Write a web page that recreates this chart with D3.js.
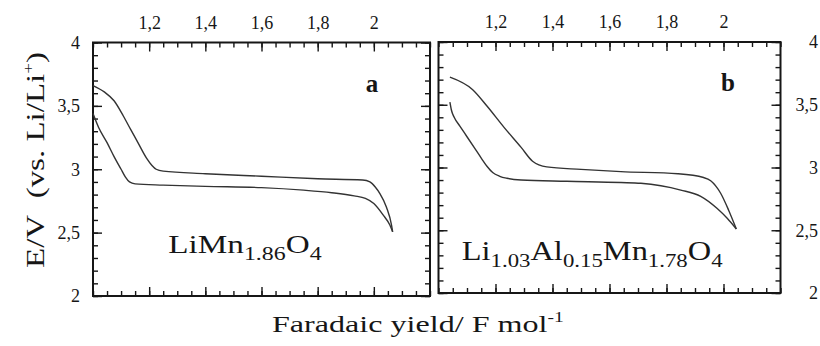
<!DOCTYPE html>
<html><head><meta charset="utf-8">
<script src="https://cdn.jsdelivr.net/npm/d3@7"></script>
<style>html,body{margin:0;padding:0;background:#fff;}svg{display:block;}
svg text{font-family:"Liberation Serif","Times New Roman",Tinos,"Nimbus Roman",Times,serif;}</style>
</head><body>
<svg id="c" width="820" height="346"></svg>
<script>
// ---------- data ----------
const xMajorTicks = [1.2, 1.4, 1.6, 1.8, 2.0];
const xTickLabels = ["1,2", "1,4", "1,6", "1,8", "2"];
const yMajorTicks = [2, 2.5, 3, 3.5, 4];
const yTickLabels = ["2", "2,5", "3", "3,5", "4"];
const panelLetters = ["a", "b"];

// panel a : LiMn1.86O4
const aUpperX = [1.0, 1.04, 1.075, 1.108, 1.135, 1.16, 1.19, 1.21, 1.225, 1.25, 1.4, 1.6, 1.8, 1.96, 1.986, 2.005, 2.021, 2.045, 2.063, 2.067];
const aUpperV = [3.66, 3.61, 3.54, 3.42, 3.31, 3.21, 3.09, 3.03, 3.0, 2.985, 2.965, 2.945, 2.925, 2.915, 2.90, 2.86, 2.81, 2.70, 2.56, 2.506];
const aLowerX = [1.0, 1.02, 1.05, 1.075, 1.10, 1.115, 1.13, 1.15, 1.25, 1.4, 1.6, 1.75, 1.85, 1.93, 1.97, 2.0, 2.033, 2.057, 2.067];
const aLowerV = [3.44, 3.33, 3.21, 3.10, 3.0, 2.94, 2.90, 2.885, 2.875, 2.865, 2.855, 2.835, 2.815, 2.79, 2.77, 2.73, 2.64, 2.56, 2.506];

// panel b : Li1.03Al0.15Mn1.78O4
const bUpperX = [1.04, 1.12, 1.17, 1.23, 1.29, 1.33, 1.38, 1.5, 1.64, 1.84, 1.93, 1.955, 1.99, 2.018, 2.045];
const bUpperV = [3.72, 3.62, 3.49, 3.32, 3.16, 3.05, 3.005, 2.985, 2.967, 2.95, 2.92, 2.895, 2.795, 2.66, 2.51];
const bLowerX = [1.04, 1.045, 1.055, 1.075, 1.10, 1.125, 1.15, 1.17, 1.19, 1.215, 1.24, 1.29, 1.45, 1.64, 1.71, 1.85, 1.92, 1.977, 2.013, 2.045];
const bLowerV = [3.52, 3.46, 3.40, 3.33, 3.245, 3.16, 3.075, 3.01, 2.96, 2.93, 2.914, 2.90, 2.89, 2.88, 2.874, 2.82, 2.77, 2.675, 2.595, 2.51];

const xDomain = [1.0, 2.2];
const yDomain = [2, 4];

// ---------- drawing ----------
const svg = d3.select("#c");
const ink = "#161616";

const panels = [
  {x0: 93, x1: 430, y0: 42.5, y1: 296, curves: [[aUpperX, aUpperV], [aLowerX, aLowerV]], labelSide: "left"},
  {x0: 438.5, x1: 780.5, y0: 42, y1: 293, curves: [[bUpperX, bUpperV], [bLowerX, bLowerV]], labelSide: "right"}
];

const minorX = d3.range(1.0, 2.2001, 0.05).map(v => +v.toFixed(2));
const minorY = d3.range(2, 4.0001, 0.1).map(v => +v.toFixed(1));

function styleAxis(g) {
  g.attr("font-family", null);
  g.select(".domain").remove();
  g.selectAll("line").attr("stroke", ink).attr("stroke-width", 1.4);
  g.selectAll("text").attr("fill", ink).style("font-size", "18px");
}

panels.forEach((p, i) => {
  const x = d3.scaleLinear().domain(xDomain).range([p.x0, p.x1]);
  const y = d3.scaleLinear().domain(yDomain).range([p.y1, p.y0]);
  const g = svg.append("g");

  // top axis
  g.append("g").attr("transform", `translate(0,${p.y0})`)
    .call(d3.axisTop(x).tickValues(minorX).tickSize(-5).tickFormat("")).call(styleAxis);
  g.append("g").attr("transform", `translate(0,${p.y0})`)
    .call(d3.axisTop(x).tickValues(xMajorTicks).tickSize(-9).tickPadding(14)
      .tickFormat((d, k) => xTickLabels[k])).call(styleAxis);
  // bottom axis
  g.append("g").attr("transform", `translate(0,${p.y1})`)
    .call(d3.axisBottom(x).tickValues(minorX).tickSize(-5).tickFormat("")).call(styleAxis);
  g.append("g").attr("transform", `translate(0,${p.y1})`)
    .call(d3.axisBottom(x).tickValues(xMajorTicks).tickSize(-9).tickFormat("")).call(styleAxis);
  // left axis
  g.append("g").attr("transform", `translate(${p.x0},0)`)
    .call(d3.axisLeft(y).tickValues(minorY).tickSize(-5).tickFormat("")).call(styleAxis);
  g.append("g").attr("transform", `translate(${p.x0},0)`)
    .call(d3.axisLeft(y).tickValues(yMajorTicks).tickSize(-9).tickPadding(13)
      .tickFormat(p.labelSide === "left" ? ((d, k) => yTickLabels[k]) : "")).call(styleAxis);
  // right axis
  g.append("g").attr("transform", `translate(${p.x1},0)`)
    .call(d3.axisRight(y).tickValues(minorY).tickSize(-5).tickFormat("")).call(styleAxis);
  const right = g.append("g").attr("transform", `translate(${p.x1},0)`)
    .call(d3.axisRight(y).tickValues(yMajorTicks).tickSize(-9)
      .tickFormat(p.labelSide === "right" ? ((d, k) => yTickLabels[k]) : "")).call(styleAxis);
  if (p.labelSide === "right") {
    right.selectAll("text").attr("text-anchor", "end").attr("x", 37.5);
  }

  // frame
  g.append("rect").attr("x", p.x0).attr("y", p.y0)
    .attr("width", p.x1 - p.x0).attr("height", p.y1 - p.y0)
    .attr("fill", "none").attr("stroke", ink).attr("stroke-width", 2);

  // curves
  const line = d3.line().x(d => x(d[0])).y(d => y(d[1])).curve(d3.curveMonotoneX);
  p.curves.forEach(([xs, vs]) => {
    const pts = xs.map((xv, k) => [xv, vs[k]]);
    g.append("path").datum(pts).attr("d", line)
      .attr("fill", "none").attr("stroke", "#333").attr("stroke-width", 1.4);
  });

  // panel letter
  g.append("text").attr("x", i === 0 ? 372 : 728).attr("y", i === 0 ? 91.5 : 90.5)
    .attr("text-anchor", "middle").attr("fill", ink)
    .style("font-size", "25px").style("font-weight", "bold")
    .text(panelLetters[i]);
});

// helper: place text fitted to a width
function fitText(node, ax, ay, targetW, rotate) {
  const bb = node.getBBox();
  const s = targetW / bb.width;
  d3.select(node).attr("transform",
    `translate(${ax},${ay})${rotate ? " rotate(-90)" : ""} scale(${s},1)`);
}

function formula(parts, size, ax, ay, w) {
  const t = svg.append("text").attr("x", 0).attr("y", 0).attr("fill", ink)
    .style("font-size", size + "px");
  let shifted = false;
  parts.forEach(([s, sub]) => {
    const ts = t.append("tspan").text(s);
    if (sub && !shifted) { ts.attr("dy", 7); shifted = true; }
    else if (!sub && shifted) { ts.attr("dy", -7); shifted = false; }
    if (sub) ts.style("font-size", Math.round(size * 0.72) + "px");
  });
  fitText(t.node(), ax, ay, w, false);
}
formula([["LiMn", 0], ["1.86", 1], ["O", 0], ["4", 1]], 25, 168.3, 253.3, 153.4);
formula([["Li", 0], ["1.03", 1], ["Al", 0], ["0.15", 1], ["Mn", 0], ["1.78", 1], ["O", 0], ["4", 1]], 27, 461.7, 260, 261.6);

// x title
const xt = svg.append("text").attr("fill", ink).style("font-size", "23px");
xt.append("tspan").text("Faradaic yield/ F mol");
xt.append("tspan").attr("dy", -10).style("font-size", "14px").text("-1");
fitText(xt.node(), 272, 331.7, 292, false);

// y title
const yt = svg.append("text").attr("fill", ink).attr("text-anchor", "middle").style("font-size", "26px");
yt.append("tspan").text("E/V\u00A0\u00A0(vs. Li/Li");
yt.append("tspan").attr("dy", -11).style("font-size", "15px").text("+");
yt.append("tspan").attr("dy", 11).text(")");
fitText(yt.node(), 44, 160, 216, true);
</script>
</body></html>
